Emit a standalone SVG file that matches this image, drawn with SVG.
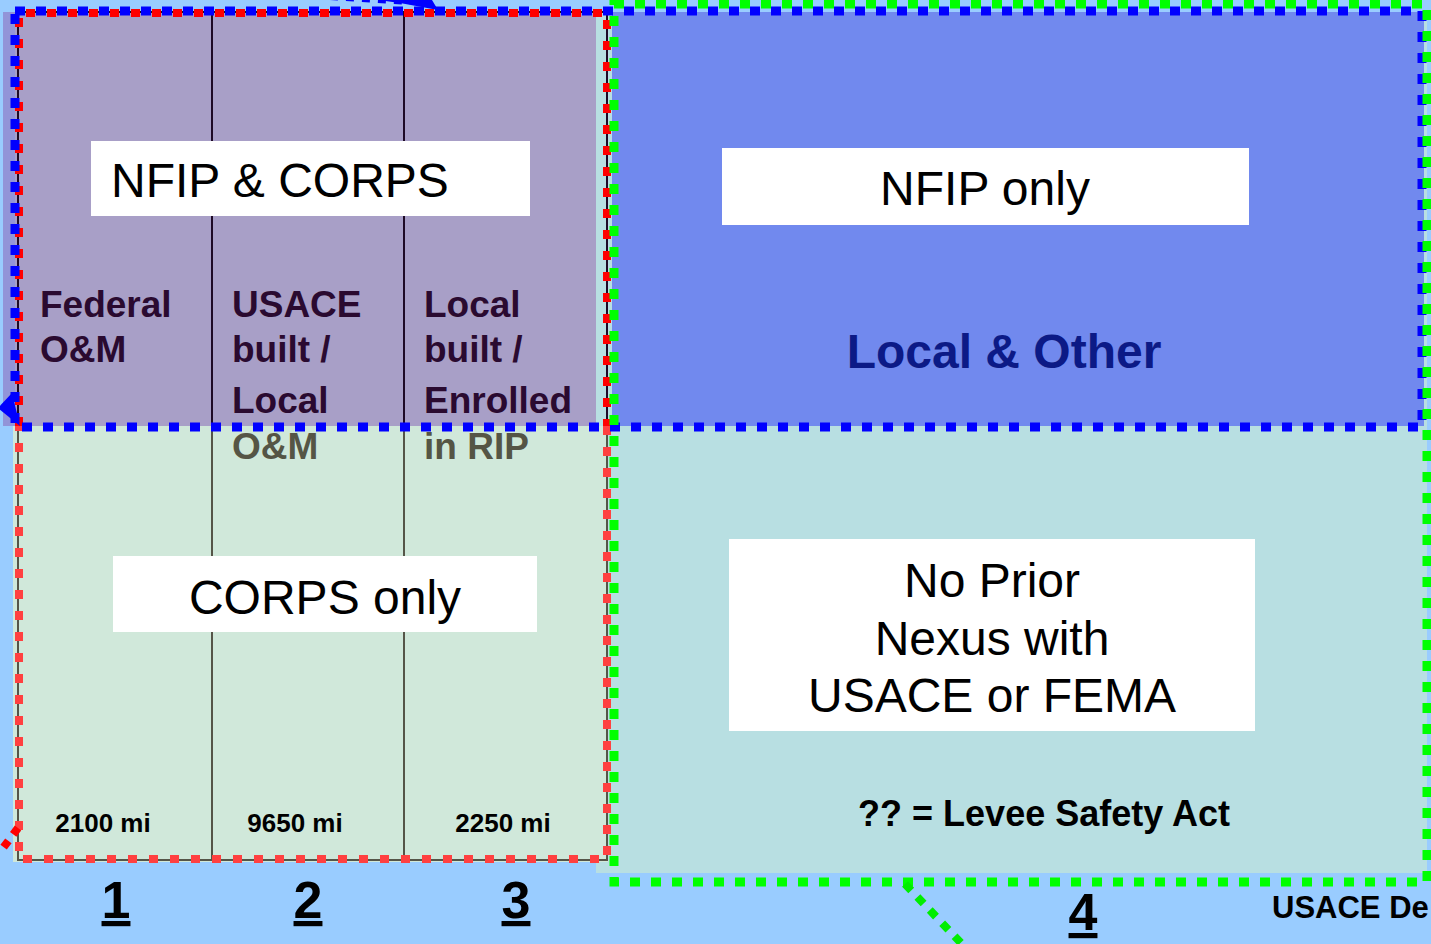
<svg xmlns="http://www.w3.org/2000/svg" width="1431" height="944" viewBox="0 0 1431 944">
<style>
.reg{font-family:"Liberation Sans",Arial,sans-serif;font-size:48px;fill:#000}
.cell{font-family:"Liberation Sans",Arial,sans-serif;font-weight:bold;font-size:37px}
.top{fill:#2a0a30}
.bot{fill:#555545}
.mi{font-family:"Liberation Sans",Arial,sans-serif;font-weight:bold;font-size:26px;fill:#000}
.num{font-family:"Liberation Sans",Arial,sans-serif;font-weight:bold;font-size:52px;fill:#000}
.box{fill:#fff}
</style>
<rect x="0" y="0" width="1431" height="944" fill="#99ccff"/>
<g id="regions">
<rect x="596" y="12" width="831" height="861" fill="#b8dfe2"/>
<rect x="13" y="426" width="595" height="436" fill="#d0e8da"/>
<rect x="612" y="12" width="812" height="414" fill="#7189ee"/>
<rect x="3" y="12" width="12" height="414" fill="#9294d8"/>
<rect x="15" y="12" width="581" height="414" fill="#a89fc7"/>
</g>
<g id="table" fill="none" stroke-width="2">
<path d="M18 426 V12 H607 V426 M212 12 V426 M404 12 V426" stroke="#1e0a26"/>
<path d="M18 426 V860 H607 V426 M212 426 V860 M404 426 V860" stroke="#555548"/>
</g>
<g id="connectors" fill="none">
<path d="M19 426 V13 H607 V426" stroke="#ff0000" stroke-width="8" stroke-dasharray="9 12"/>
<path d="M607 426 V859 H19 V426" stroke="#ff4040" stroke-width="8" stroke-dasharray="9 12"/>
<rect x="15" y="11" width="1407" height="416" stroke="#0000ff" stroke-width="9" stroke-dasharray="10 11"/>
<rect x="614" y="4" width="813" height="878" stroke="#00ff00" stroke-width="9" stroke-dasharray="10 11"/>
<path d="M18 828 L0 852" stroke="#ff0000" stroke-width="8" stroke-dasharray="8 8"/>
<path d="M905 884 L962 944" stroke="#00ee00" stroke-width="8" stroke-dasharray="9 9"/>
<path d="M330 -2 L410 3" stroke="#0000ff" stroke-width="4" stroke-dasharray="8 8"/>
<polygon points="378,0 432,0 438,10 400,3" fill="#0000ff"/>
<polygon points="-2,408 12,393 20,426" fill="#0000ff"/>
</g>
<g id="node-nfip-corps">
<rect class="box" x="91" y="141" width="439" height="75"/>
<text class="reg" x="111" y="197">NFIP &amp; CORPS</text>
</g>
<g id="node-nfip-only">
<rect class="box" x="722" y="148" width="527" height="77"/>
<text class="reg" x="985" y="205" text-anchor="middle">NFIP only</text>
</g>
<g id="node-local-other">
<text x="1004" y="368" text-anchor="middle" font-family="Liberation Sans, Arial, sans-serif" font-weight="bold" font-size="48" fill="#0c1a86">Local &amp; Other</text>
</g>
<g id="node-col1">
<text class="cell top" x="40" y="317">Federal</text>
<text class="cell top" x="40" y="362">O&amp;M</text>
<text class="mi" x="103" y="832" text-anchor="middle">2100 mi</text>
</g>
<g id="node-col2">
<text class="cell top" x="232" y="317">USACE</text>
<text class="cell top" x="232" y="362">built /</text>
<text class="cell top" x="232" y="413">Local</text>
<text class="cell bot" x="232" y="459">O&amp;M</text>
<text class="mi" x="295" y="832" text-anchor="middle">9650 mi</text>
</g>
<g id="node-col3">
<text class="cell top" x="424" y="317">Local</text>
<text class="cell top" x="424" y="362">built /</text>
<text class="cell top" x="424" y="413">Enrolled</text>
<text class="cell bot" x="424" y="459">in RIP</text>
<text class="mi" x="503" y="832" text-anchor="middle">2250 mi</text>
</g>
<g id="node-corps-only">
<rect class="box" x="113" y="556" width="424" height="76"/>
<text class="reg" x="325" y="614" text-anchor="middle">CORPS only</text>
</g>
<g id="node-no-prior">
<rect class="box" x="729" y="539" width="526" height="192"/>
<text class="reg" x="992" y="597" text-anchor="middle">No Prior</text>
<text class="reg" x="992" y="655" text-anchor="middle">Nexus with</text>
<text class="reg" x="992" y="712" text-anchor="middle">USACE or FEMA</text>
</g>
<g id="node-levee">
<text x="1044" y="826" text-anchor="middle" font-family="Liberation Sans, Arial, sans-serif" font-weight="bold" font-size="36" fill="#000">?? = Levee Safety Act</text>
</g>
<g id="node-numbers">
<text class="num" x="116" y="918" text-anchor="middle" text-decoration="underline">1</text>
<text class="num" x="308" y="918" text-anchor="middle" text-decoration="underline">2</text>
<text class="num" x="516" y="918" text-anchor="middle" text-decoration="underline">3</text>
<text class="num" x="1083" y="930" text-anchor="middle" text-decoration="underline">4</text>
</g>
<g id="node-usace">
<text x="1272" y="918" font-family="Liberation Sans, Arial, sans-serif" font-weight="bold" font-size="31" fill="#000">USACE De</text>
</g>
</svg>
